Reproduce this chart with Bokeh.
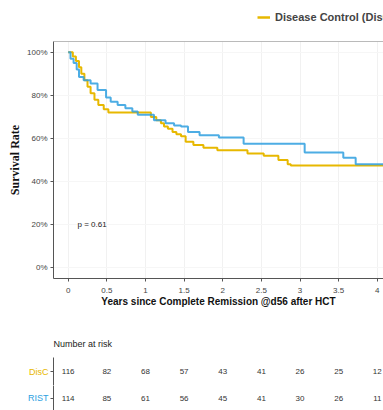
from bokeh.plotting import figure
from bokeh.layouts import column
from bokeh.models import (Range1d, NumeralTickFormatter, FixedTicker, Label, Legend,
                          LegendItem, Span)
from bokeh.core.properties import value
from bokeh.embed import file_html
from bokeh.resources import INLINE

# ---- data ----
disc_t = [0, 0.06, 0.10, 0.14, 0.17, 0.21, 0.25, 0.29, 0.34, 0.39, 0.46, 0.52,
          1.07, 1.14, 1.20, 1.24, 1.29, 1.35, 1.40, 1.46, 1.52, 1.62, 1.75, 1.93,
          2.32, 2.53, 2.72, 2.84, 2.88, 4.3]
disc_s = [1.00, 0.98, 0.96, 0.93, 0.90, 0.87, 0.84, 0.81, 0.78, 0.755, 0.735, 0.72,
          0.70, 0.685, 0.67, 0.655, 0.645, 0.63, 0.62, 0.61, 0.585, 0.57, 0.557, 0.545,
          0.53, 0.52, 0.50, 0.48, 0.475, 0.475]
rist_t = [0, 0.03, 0.07, 0.11, 0.14, 0.20, 0.29, 0.38, 0.49, 0.55, 0.64, 0.74,
          0.83, 0.90, 1.11, 1.26, 1.37, 1.46, 1.55, 1.70, 1.95, 2.27, 3.06, 3.56,
          3.72, 4.3]
rist_s = [1.00, 0.97, 0.95, 0.92, 0.885, 0.87, 0.855, 0.825, 0.79, 0.77, 0.755, 0.74,
          0.725, 0.71, 0.685, 0.67, 0.66, 0.655, 0.63, 0.615, 0.605, 0.575, 0.535, 0.51,
          0.48, 0.48]
risk_times = [0, 0.5, 1, 1.5, 2, 2.5, 3, 3.5, 4]
disc_risk = [116, 82, 68, 57, 43, 41, 26, 25, 12]
rist_risk = [114, 85, 61, 56, 45, 41, 30, 26, 11]
x_ticks = [0, 0.5, 1, 1.5, 2, 2.5, 3, 3.5, 4]
y_ticks = [0, 0.2, 0.4, 0.6, 0.8, 1.0]
p_text = "p = 0.61"
legend_label = "Disease Control (DisC)"
groups = ["DisC", "RIST"]

YEL = "#E7B800"
BLU = "#2E9FDF"
FONT = "Liberation Sans"

xr = Range1d(-0.19, 4.08)

# ---- legend strip (the DisC series is drawn out of view; only its legend key shows) ----
lg = figure(width=383, height=37, x_range=xr, y_range=Range1d(5, 6),
            output_backend="svg", toolbar_location=None,
            min_border_left=53, min_border_right=0, min_border_top=0, min_border_bottom=0)
lg.outline_line_color = None
lg.axis.visible = False
lg.grid.grid_line_color = None
lr = lg.step(disc_t, disc_s, mode="after", line_color=YEL, line_width=2.5)
leg = Legend(items=[LegendItem(label=legend_label, renderers=[lr])],
             location=(204, 14), orientation="horizontal",
             border_line_color=None, background_fill_alpha=0,
             label_text_font=FONT, label_text_font_style="bold",
             label_text_font_size="11px", glyph_width=13, glyph_height=10,
             label_standoff=5, padding=0, margin=0, spacing=10)
lg.add_layout(leg, "center")

# ---- survival panel ----
p = figure(width=383, height=278, x_range=xr, y_range=Range1d(-0.05, 1.05),
           output_backend="svg", toolbar_location=None,
           min_border_left=53, min_border_right=0, min_border_top=4,
           min_border_bottom=37)
p.outline_line_color = None
p.background_fill_color = "white"
p.add_layout(Span(location=1.05, dimension="width", line_color="#777", line_width=1))

r1 = p.step(disc_t, disc_s, mode="after", line_color=YEL, line_width=2)
r2 = p.step(rist_t, rist_s, mode="after", line_color=BLU, line_width=2, line_alpha=0.85)

p.xaxis.ticker = FixedTicker(ticks=x_ticks)
p.yaxis.ticker = FixedTicker(ticks=y_ticks)
p.yaxis.formatter = NumeralTickFormatter(format="0%")
for ax in (p.xaxis, p.yaxis):
    ax.axis_line_color = "#555"
    ax.major_tick_line_color = "#555"
    ax.major_tick_out = 3
    ax.major_tick_in = 0
    ax.minor_tick_line_color = None
    ax.major_label_text_font = FONT
    ax.major_label_text_font_size = "8px"
    ax.major_label_text_color = "#444"
    ax.axis_label_text_font_style = "bold"
    ax.axis_label_text_color = "#111"
p.xaxis.axis_label = "Years since Complete Remission @d56 after HCT"
p.xaxis.axis_label_text_font = FONT
p.xaxis.axis_label_text_font_size = "10px"
p.xaxis.axis_label_standoff = 0
p.xaxis.major_label_standoff = 6
p.yaxis.axis_label = "Survival Rate"
p.yaxis.axis_label_text_font = "Liberation Serif"
p.yaxis.axis_label_text_font_size = "12px"
p.yaxis.axis_label_standoff = 2
p.yaxis.major_label_standoff = 3
p.xgrid.grid_line_color = "#f1f1f1"
p.ygrid.grid_line_color = "#f6f6f6"
p.xgrid.ticker = FixedTicker(ticks=x_ticks)

p.add_layout(Label(x=0.12, y=0.2, text=p_text, text_font=FONT,
                   text_font_size="8px", text_color="#222", text_baseline="middle"))

# ---- risk table: one strip per group so each row label gets its colour ----
def risk_row(label, counts, color, height, top, title=None):
    q = figure(width=383, height=height, x_range=xr, y_range=Range1d(0, 1),
               output_backend="svg", toolbar_location=None,
               min_border_left=53, min_border_right=0, min_border_top=top,
               min_border_bottom=0)
    q.outline_line_color = None
    q.xaxis.visible = False
    q.grid.grid_line_color = None
    q.yaxis.ticker = FixedTicker(ticks=[0.5])
    q.yaxis.major_label_overrides = {0.5: label}
    q.yaxis.major_label_text_color = color
    q.yaxis.major_label_text_font = FONT
    q.yaxis.major_label_text_font_size = "9px"
    q.yaxis.major_label_standoff = 2
    q.yaxis.axis_line_color = "#555"
    q.yaxis.major_tick_line_color = "#555"
    q.yaxis.major_tick_out = 3
    q.yaxis.major_tick_in = 0
    q.yaxis.minor_tick_line_color = None
    q.text(x=risk_times, y=[0.5] * len(risk_times), text=[str(v) for v in counts],
           text_font=value(FONT), text_font_size="8px", text_color="#333",
           text_align="center", text_baseline="middle")
    if title:
        q.title.text = title
        q.title.text_font = FONT
        q.title.text_font_size = "9px"
        q.title.text_font_style = "normal"
        q.title.text_color = "#222"
        q.title.standoff = 17
    return q

qa = risk_row(groups[0], disc_risk, YEL, 70, 42, "Number at risk")
qb = risk_row(groups[1], rist_risk, BLU, 25, 0)

layout = column(lg, p, qa, qb, spacing=0)
open("out.html", "w").write(file_html(layout, INLINE))
